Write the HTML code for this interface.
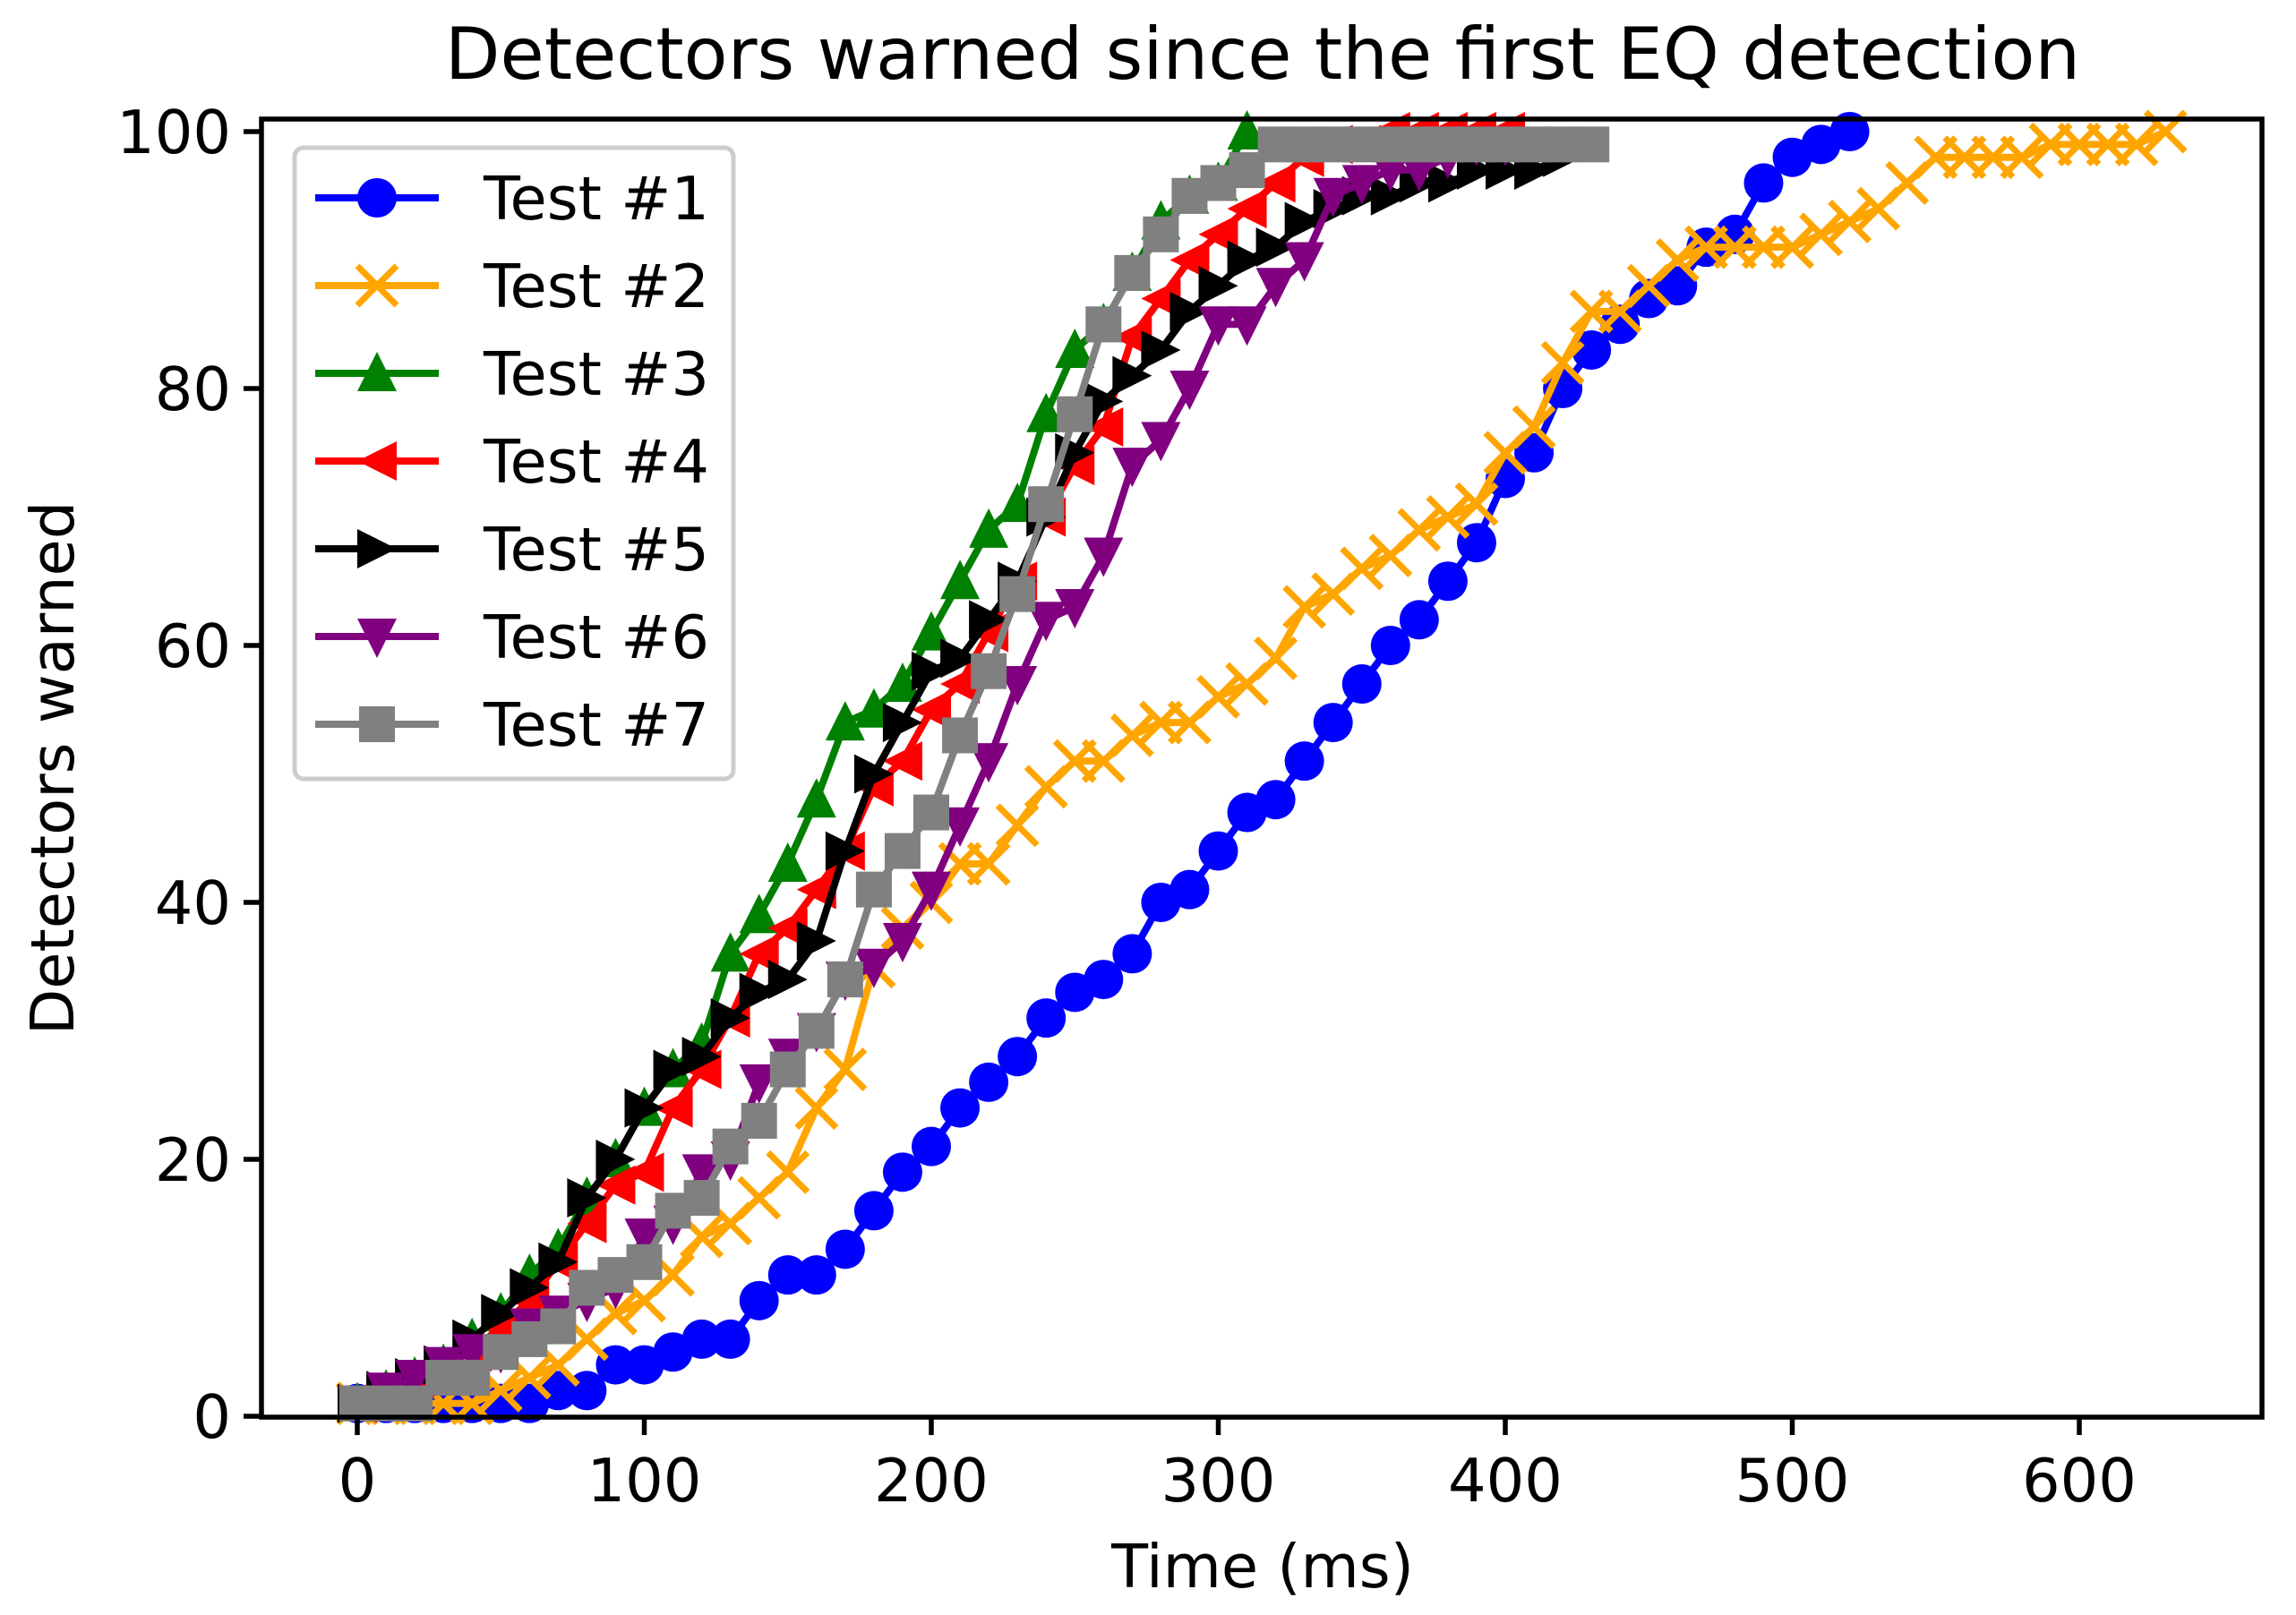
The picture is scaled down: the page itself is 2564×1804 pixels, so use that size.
<!DOCTYPE html>
<html><head><meta charset="utf-8"><style>
html,body{margin:0;padding:0;background:#fff;}
svg{display:block;font-family:"DejaVu Sans","Liberation Sans",sans-serif;}
</style></head><body>
<svg id="chart" width="2564" height="1804" viewBox="0 0 2564 1804">
<rect width="2564" height="1804" fill="#fff"/>
<text x="1410" y="88" font-size="80" text-anchor="middle">Detectors warned since the first EQ detection</text>
<g id="plot"></g>
<g id="axes"></g>
<g id="legend"></g>
<text x="1410" y="1773" font-size="67" text-anchor="middle">Time (ms)</text>
<text x="0" y="0" font-size="67" text-anchor="middle" transform="translate(82,858) rotate(-90)">Detectors warned</text>
</svg>
<script>
const xTicks=[0,100,200,300,400,500,600];
const yTicks=[0,20,40,60,80,100];
const seriesNames=["Test #1","Test #2","Test #3","Test #4","Test #5","Test #6","Test #7"];
const t1x=[0,10,20,30,40,50,60,70,80,90,100,110,120,130,140,150,160,170,180,190,200,210,220,230,240,250,260,270,280,290,300,310,320,330,340,350,360,370,380,390,400,410,420,430,440,450,460,470,480,490,500,510,520];
const t1y=[1,1,1,1,1,1,1,2,2,4,4,5,6,6,9,11,11,13,16,19,21,24,26,28,31,33,34,36,40,41,44,47,48,51,54,57,60,62,65,68,73,75,80,83,85,87,88,91,92,96,98,99,100];
const t2x=[0,10,20,30,40,50,60,70,80,90,100,110,120,130,140,150,160,170,180,190,200,210,220,230,240,250,260,270,280,290,300,310,320,330,340,350,360,370,380,390,400,410,420,430,440,450,460,470,480,490,500,510,520,530,540,550,560,570,580,590,600,610,620,630];
const t2y=[1,1,1,1,1,2,3,4,6,8,9,11,14,15,17,19,24,27,35,38,40,43,43,46,49,51,51,53,54,54,56,57,59,63,64,66,67,69,70,71,75,77,82,86,86,88,90,91,91,91,91,92,93,94,96,98,98,98,98,99,99,99,99,100];
const t3x=[0,10,20,30,40,50,60,70,80,90,100,110,120,130,140,150,160,170,180,190,200,210,220,230,240,250,260,270,280,290,300,310];
const t3y=[1,2,3,4,6,8,11,13,17,20,24,27,29,36,39,43,48,54,55,57,61,65,69,71,78,83,85,89,93,95,96,100];
const t4x=[0,10,20,30,40,50,60,70,80,90,100,110,120,130,140,150,160,170,180,190,200,210,220,230,240,250,260,270,280,290,300,310,320,330,340,350,360,370,380,390,400];
const t4y=[1,2,3,4,5,7,9,12,15,18,19,24,27,31,36,38,41,44,49,51,55,57,61,65,70,74,77,84,87,90,92,94,96,98,99,99,100,100,100,100,100];
const t5x=[0,10,20,30,40,50,60,70,80,90,100,110,120,130,140,150,160,170,180,190,200,210,220,230,240,250,260,270,280,290,300,310,320,330,340,350,360,370,380,390,400,410,420];
const t5y=[1,2,3,4,6,8,10,12,17,20,24,27,28,31,33,34,37,44,50,54,58,59,62,65,70,75,79,81,83,86,88,90,91,93,94,95,95,96,96,97,97,97,98];
const t6x=[0,10,20,30,40,50,60,70,80,90,100,110,120,130,140,150,160,170,180,190,200,210,220,230,240,250,260,270,280,290,300,310,320,330,340,350,360,370,380,390,400];
const t6y=[1,2,3,4,5,5,7,8,9,10,14,15,19,20,26,28,30,34,35,37,41,46,51,57,62,63,67,74,76,80,85,85,88,90,95,96,97,97,98,99,99];
const t7x=[0,10,20,30,40,50,60,70,80,90,100,110,120,130,140,150,160,170,180,190,200,210,220,230,240,250,260,270,280,290,300,310,320,330,340,350,360,370,380,390,400,410,420,430];
const t7y=[1,1,1,3,3,5,6,7,10,11,12,16,17,21,23,27,30,34,41,44,47,53,58,64,71,78,85,89,92,95,96,97,99,99,99,99,99,99,99,99,99,99,99,99];
const xsAll=[t1x,t2x,t3x,t4x,t5x,t6x,t7x];
const ysAll=[t1y,t2y,t3y,t4y,t5y,t6y,t7y];
const colors=["#0000ff","#ffa500","#008000","#ff0000","#000000","#800080","#808080"];
const markers=["o","x","^","<",">","v","s"];
const L=292,R=2526,T=133,B=1583;
const sx=v=>399+v*3.205;
const sy=v=>1582-v*14.35;
const NS="http://www.w3.org/2000/svg";
function mk(tag,attrs,parent){const e=document.createElementNS(NS,tag);for(const k in attrs)e.setAttribute(k,attrs[k]);parent.appendChild(e);return e;}
function marker(type,cx,cy,col,parent){
  const r=22;let e;
  if(type==="o"){e=mk("circle",{cx:cx,cy:cy,r:r,fill:col},parent);}
  else if(type==="x"){e=mk("path",{d:`M${cx-r},${cy-r}L${cx+r},${cy+r}M${cx-r},${cy+r}L${cx+r},${cy-r}`,stroke:col,"stroke-width":7,fill:"none"},parent);}
  else if(type==="s"){e=mk("rect",{x:cx-20,y:cy-20,width:40,height:40,fill:col},parent);}
  else{let p;
    if(type==="^")p=[[cx,cy-r-2],[cx+r,cy+r-2],[cx-r,cy+r-2]];
    if(type==="v")p=[[cx,cy+r+2],[cx+r,cy-r+2],[cx-r,cy-r+2]];
    if(type==="<")p=[[cx-r,cy],[cx+r,cy-r],[cx+r,cy+r]];
    if(type===">")p=[[cx+r,cy],[cx-r,cy-r],[cx-r,cy+r]];
    e=mk("polygon",{points:p.map(q=>q.join(",")).join(" "),fill:col},parent);}
  return e;
}
const plot=document.getElementById("plot");
for(let s=0;s<7;s++){
  const g=mk("g",{},plot);
  
  
  const pts=xsAll[s].map((x,i)=>sx(x)+","+sy(ysAll[s][i])).join(" ");
  const ln=mk("polyline",{points:pts,fill:"none",stroke:colors[s],"stroke-width":8,"stroke-linejoin":"round"},g);
  
  
  xsAll[s].forEach((x,i)=>{
    const m=marker(markers[s],sx(x),sy(ysAll[s][i]),colors[s],g);
    
    
  });
}
const axes=document.getElementById("axes");
const fr=mk("rect",{x:L,y:T,width:R-L,height:B-T,fill:"none",stroke:"#000","stroke-width":5.5},axes);


xTicks.forEach(v=>{
  const x=sx(v);
  const t=mk("line",{x1:x,y1:B,x2:x,y2:B+20,stroke:"#000","stroke-width":5.5},axes);
  
  
  const lb=mk("text",{x:x,y:B+94,"font-size":67,"text-anchor":"middle"},axes);
  lb.textContent=v;
  
  
});
yTicks.forEach(v=>{
  const y=sy(v);
  const t=mk("line",{x1:L-20,y1:y,x2:L,y2:y,stroke:"#000","stroke-width":5.5},axes);
  
  
  const lb=mk("text",{x:L-34,y:y+24,"font-size":67,"text-anchor":"end"},axes);
  lb.textContent=v;
  
  
});
const leg=document.getElementById("legend");
const box=mk("rect",{x:329,y:165,width:490,height:705,rx:10,fill:"#fff","fill-opacity":0.8,stroke:"#ccc","stroke-width":5},leg);


seriesNames.forEach((n,i)=>{
  const y=221+i*98;
  const g=mk("g",{},leg);
  
  
  mk("line",{x1:352,y1:y,x2:490,y2:y,stroke:colors[i],"stroke-width":8},g);
  marker(markers[i],421,y,colors[i],g);
  const tx=mk("text",{x:540,y:y+24,"font-size":67},g);
  tx.textContent=n;
});
</script>
</body></html>
